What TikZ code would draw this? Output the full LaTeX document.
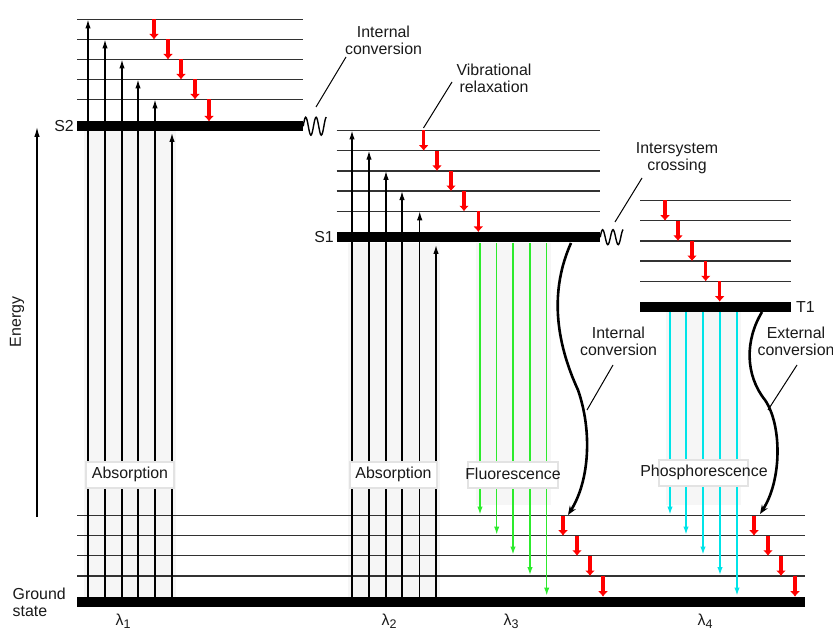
\documentclass[tikz,border=0pt]{standalone}
\usepackage{fontspec}
\setmainfont{Liberation Sans}
\usetikzlibrary{arrows.meta}
\definecolor{grn}{RGB}{45,235,45}
\definecolor{cyn}{RGB}{0,228,232}
\definecolor{lvlc}{RGB}{50,50,50}
\definecolor{txtc}{RGB}{25,25,25}
\newcommand{\lamsub}[1]{λ\raisebox{-3.5pt}{\fontsize{12.5}{12.5}\selectfont #1}}
\begin{document}
\begin{tikzpicture}[x=1pt,y=-1pt,
  lbl/.style={font=\fontsize{15.9}{17}\selectfont, text=txtc, inner sep=0pt, align=center},
  lvl/.style={draw=lvlc, line width=1.3pt},
  bar/.style={fill=black, draw=none, inner sep=0pt, rectangle},
  uparr/.style={draw=black, line width=1.3pt, -{Latex[length=9pt,width=5.5pt]}},
  redarr/.style={draw=red, line width=3.2pt, -{Latex[length=5.5pt,width=10pt]}},
  grnarr/.style={draw=grn, line width=1.3pt, -{Latex[length=8pt,width=5.5pt]}},
  cynarr/.style={draw=cyn, line width=1.3pt, -{Latex[length=8pt,width=5.5pt]}},
  curvearr/.style={draw=black, line width=2.6pt, -{Stealth[length=9pt,width=7pt]}},
  leader/.style={draw=black, line width=1pt},
  wig/.style={draw=black, line width=1.4pt},
  labbox/.style={fill=white, draw=gray!22, line width=1.2pt, inner sep=0pt, minimum height=26pt},
  shade/.style={fill=gray!7, draw=none}
]
\useasboundingbox (0,0) rectangle (833,631);

% soft shadows behind arrow groups
\fill[shade] (84,131) rectangle (176,597);
\fill[shade] (348,243) rectangle (440,597);
\fill[shade] (476,243) rectangle (551,505);
\fill[shade] (666,312) rectangle (741,505);

% vibrational levels
\foreach \y in {19.5,39.5,59.5,79.5,99.5} \draw[lvl] (77,\y) -- (303,\y);
\foreach \y in {130.5,150.7,170.9,191.1,211.3} \draw[lvl] (336.7,\y) -- (600,\y);
\foreach \y in {200.5,220.7,240.9,261.1,281.3} \draw[lvl] (640,\y) -- (790.7,\y);
\foreach \y in {515.7,535.7,555.8,576} \draw[lvl] (77,\y) -- (805,\y);

% electronic states
\node[bar, minimum width=226pt, minimum height=9.5pt] (S2bar) at (190,126.2) {};
\node[bar, minimum width=263.3pt, minimum height=10.5pt] (S1bar) at (468.35,237.2) {};
\node[bar, minimum width=150.7pt, minimum height=10pt] (T1bar) at (715.35,306.7) {};
\node[bar, minimum width=728pt, minimum height=10pt] (gnd) at (441,601.7) {};

% absorption arrows
\foreach \x/\y in {88/19.5,105/39.5,122/59.5,138/79.5,155/99.5,172/133}
  \draw[uparr] (\x,0 |- gnd.north) -- (\x,\y);
\foreach \x/\y in {352/130.5,369/150.7,386/170.9,402/191.1,419.7/211.3,436/245}
  \draw[uparr] (\x,0 |- gnd.north) -- (\x,\y);

% vibrational relaxation
\foreach \x/\a/\b in {154/19.5/39.5,168/39.5/59.5,181/59.5/79.5,195/79.5/99.5,209/99.5/121.5}
  \draw[redarr] (\x,\a) -- (\x,\b);
\foreach \x/\a/\b in {423.7/130.5/150.7,437/150.7/170.9,451/170.9/191.1,464/191.1/211.3,478.3/211.3/232}
  \draw[redarr] (\x,\a) -- (\x,\b);
\foreach \x/\a/\b in {665/200.5/220.7,678/220.7/240.9,692/240.9/261.1,705.7/261.1/281.3,719.7/281.3/301.7}
  \draw[redarr] (\x,\a) -- (\x,\b);
\foreach \x/\a/\b in {563/515.7/535.7,577/535.7/555.8,590/555.8/576,603/576/596.7}
  \draw[redarr] (\x,\a) -- (\x,\b);
\foreach \x/\a/\b in {754/515.7/535.7,768/535.7/555.8,781/555.8/576,795/576/596.7}
  \draw[redarr] (\x,\a) -- (\x,\b);

% fluorescence and phosphorescence
\foreach \x/\y in {480/514.5,496.7/534.5,513/554.5,530/575,546.7/595.5}
  \draw[grnarr] (\x,0 |- S1bar.south) -- (\x,\y);
\foreach \x/\y in {670/514.5,686/534.5,703/554.5,720/575,737/595.5}
  \draw[cynarr] (\x,0 |- T1bar.south) -- (\x,\y);

% internal / external conversion curves
\coordinate (icS) at (571,243);
\coordinate (icM) at (578,390);
\coordinate (icE) at (568,515);
\draw[curvearr] (icS) .. controls (550,290) and (555,340) .. (icM)
  .. controls (592,430) and (590,480) .. (icE);
\coordinate (ecS) at (762,312);
\coordinate (ecM) at (765,400);
\coordinate (ecE) at (760,514);
\draw[curvearr] (ecS) .. controls (745,340) and (745,375) .. (ecM)
  .. controls (782,425) and (782,480) .. (ecE);

% wiggles
\draw[wig] (S2bar.east) sin ++(2.5,-9) cos ++(2.6,9) sin ++(2.6,9) cos ++(2.6,-9)
  sin ++(2.6,-9) cos ++(2.6,9) sin ++(2.6,9) cos ++(2.6,-9) sin ++(2.5,-9);
\draw[wig] (S1bar.east) sin ++(2.4,-7.5) cos ++(2.6,7.5) sin ++(2.6,7.5) cos ++(2.6,-7.5)
  sin ++(2.6,-7.5) cos ++(2.6,7.5) sin ++(2.6,7.5) cos ++(2.6,-7.5) sin ++(2.4,-7.5);

% energy axis
\coordinate (eB) at (37,517);
\coordinate (eT) at (37,127);
\draw[draw=black, line width=1.2pt, -{Latex[length=10pt,width=5.5pt]}] (eB) -- (eT);
\node[lbl, rotate=90] (energy) at (17,322) {Energy};

% state labels
\node[lbl, anchor=east] (S2l) at (74,126.5) {S2};
\node[lbl, anchor=east] (S1l) at (334,237.5) {S1};
\node[lbl, anchor=west] (T1l) at (796,307) {T1};
\node[lbl, align=left, anchor=west] (gsl) at (12.5,602) {Ground\\state};

% wavelength labels
\node[lbl, anchor=base] (l1) at (123,625) {\lamsub{1}};
\node[lbl, anchor=base] (l2) at (389,625) {\lamsub{2}};
\node[lbl, anchor=base] (l3) at (511,625) {\lamsub{3}};
\node[lbl, anchor=base] (l4) at (705,625) {\lamsub{4}};

% boxed process labels
\node[labbox, minimum width=88pt] (abs1) at (130,475) {};
\node[lbl] (abs1t) at (130,474) {Absorption};
\node[labbox, minimum width=87pt] (abs2) at (393.5,475) {};
\node[lbl] (abs2t) at (393.5,474) {Absorption};
\node[labbox, minimum width=90pt] (flu) at (513,475) {};
\node[lbl] (flut) at (513,473.5) {Fluorescence};
\node[labbox, minimum width=89pt] (pho) at (703.5,473) {};
\node[lbl] (phot) at (704,472) {Phosphorescence};

% annotation labels with leaders
\node[lbl] (icA) at (383.5,40.5) {Internal\\conversion};
\coordinate (icA1) at (346,57);
\coordinate (icA2) at (316,107);
\draw[leader] (icA1) -- (icA2);

\node[lbl] (vr) at (494,78.5) {Vibrational\\relaxation};
\coordinate (vr1) at (452,82);
\coordinate (vr2) at (423.5,128);
\draw[leader] (vr1) -- (vr2);

\node[lbl] (isc) at (677,158.5) {Intersystem\\crossing};
\coordinate (isc1) at (642,178);
\coordinate (isc2) at (615,222);
\draw[leader] (isc1) -- (isc2);

\node[lbl] (icB) at (618.5,341) {Internal\\conversion};
\coordinate (icB1) at (613,365);
\coordinate (icB2) at (587,410);
\draw[leader] (icB1) -- (icB2);

\node[lbl] (ec) at (796,341) {External\\conversion};
\coordinate (ec1) at (797,365);
\coordinate (ec2) at (768,410);
\draw[leader] (ec1) -- (ec2);
\end{tikzpicture}
\end{document}
